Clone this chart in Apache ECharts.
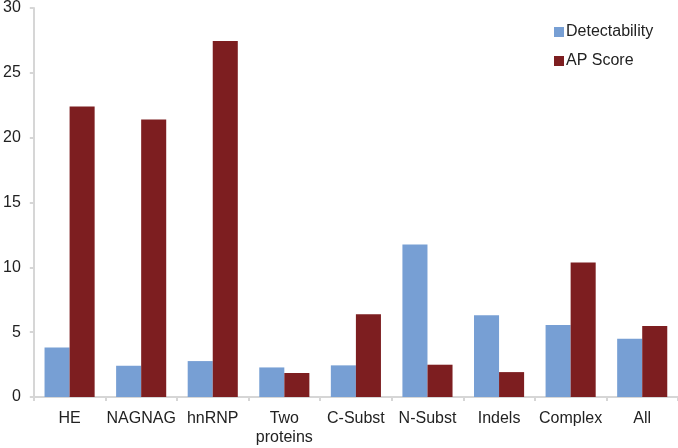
<!DOCTYPE html>
<html>
<head>
<meta charset="utf-8">
<script src="https://cdn.jsdelivr.net/npm/echarts@6/dist/echarts.min.js"></script>
<style>
  html, body { margin: 0; padding: 0; background: #fff; }
  #chart { width: 678px; height: 448px; }
</style>
</head>
<body>
<div id="chart"></div>
<script>
const categories = ['HE', 'NAGNAG', 'hnRNP', 'Two\nproteins', 'C-Subst', 'N-Subst', 'Indels', 'Complex', 'All']
const detectability = [3.82, 2.41, 2.77, 2.28, 2.44, 11.77, 6.3, 5.56, 4.5]
const apScore = [22.4, 21.4, 27.46, 1.85, 6.38, 2.49, 1.92, 10.38, 5.48]
const yTicks = [0, 5, 10, 15, 20, 25, 30]

const chart = echarts.init(document.getElementById('chart'))

const axisColor = '#d6d6d6'
const textColor = '#222'

chart.setOption({
  animation: false,
  backgroundColor: '#fff',
  textStyle: { fontFamily: 'Liberation Sans, Arial, sans-serif' },
  grid: { left: 33, right: 0, top: 7, bottom: 51 },
  legend: {
    orient: 'vertical',
    left: 549,
    top: 19,
    itemWidth: 10,
    itemHeight: 10,
    itemGap: 13,
    icon: 'rect',
    textStyle: { fontSize: 16, color: textColor, padding: [0, 0, 0, -3] },
    data: ['Detectability', 'AP Score']
  },
  xAxis: {
    type: 'category',
    data: categories,
    axisLine: { lineStyle: { color: axisColor, width: 2 } },
    axisTick: { show: true, length: 4, lineStyle: { color: axisColor, width: 2 } },
    axisLabel: { fontSize: 16, color: textColor, margin: 12, lineHeight: 19, interval: 0 }
  },
  yAxis: {
    type: 'value',
    min: yTicks[0],
    max: yTicks[yTicks.length - 1],
    interval: 5,
    axisLine: { show: true, lineStyle: { color: axisColor, width: 2 } },
    axisTick: { show: true, length: 4, lineStyle: { color: axisColor, width: 2 } },
    splitLine: { show: false },
    axisLabel: { fontSize: 16, color: textColor, margin: 13 }
  },
  series: [
    {
      name: 'Detectability',
      type: 'bar',
      data: detectability,
      barGap: '0%',
      barCategoryGap: '30%',
      itemStyle: { color: '#779fd4' }
    },
    {
      name: 'AP Score',
      type: 'bar',
      data: apScore,
      itemStyle: { color: '#7d1e20' }
    }
  ]
})
</script>
</body>
</html>
